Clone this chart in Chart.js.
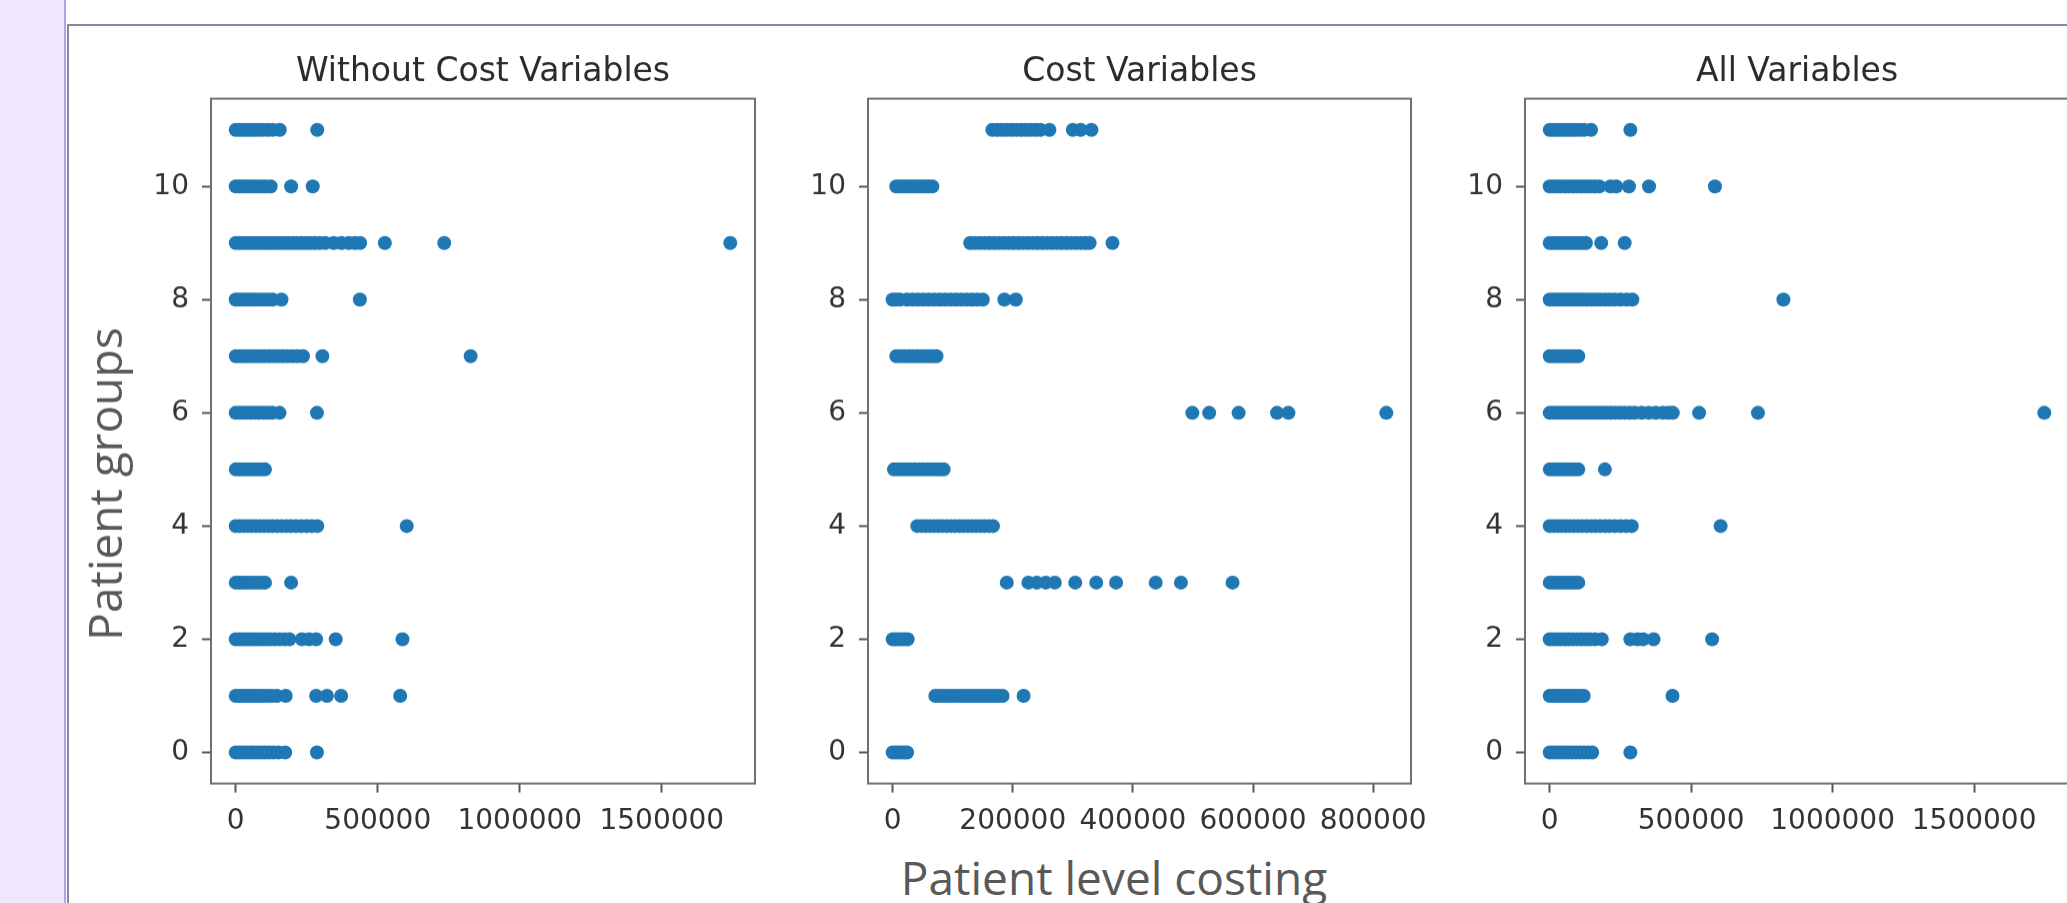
<!DOCTYPE html>
<html lang="en">
<head>
<meta charset="utf-8">
<title>Patient level costing by patient group</title>
<script src="https://cdn.jsdelivr.net/npm/chart.js@4.4.1/dist/chart.umd.min.js"></script>
<style>
  html, body { margin: 0; padding: 0; width: 2067px; height: 903px; overflow: hidden; background: #fff; }
  .band { position: absolute; left: 0; top: 0; width: 64px; height: 903px; background: #f0e7fc; border-right: 2px solid #b9a0ea; }
  .frame { position: absolute; left: 67px; top: 24px; right: -4px; bottom: -4px; background: #fff;
           border-left: 2px solid #7d8ca3; border-top: 2px solid #7d8ca3; }
  .panel { position: absolute; }
  .axis-label { position: absolute; font-family: "Open Sans", Lato, sans-serif; font-size: 46px; line-height: 46px;
                color: #595959; white-space: nowrap; }
  #xLabel { left: 1114px; top: 854px; transform: translateX(-50%); }
  #yLabel { left: 104px; top: 484px; transform: translate(-50%, -50%) rotate(-90deg); }
</style>
</head>
<body>
<div class="band"></div>
<div class="frame"></div>
<div class="panel" id="p0"><canvas id="chartWithout"></canvas></div>
<div class="panel" id="p1"><canvas id="chartCost"></canvas></div>
<div class="panel" id="p2"><canvas id="chartAll"></canvas></div>
<div class="axis-label" id="yLabel">Patient groups</div>
<div class="axis-label" id="xLabel">Patient level costing</div>

<script>
// ── Datos ──
const groups = [0, 1, 2, 3, 4, 5, 6, 7, 8, 9, 10, 11];
const yTicks = [0, 2, 4, 6, 8, 10];
const yRange = [-0.55, 11.55];

const titles = ['Without Cost Variables', 'Cost Variables', 'All Variables'];
const xTicksWide = [0, 500000, 1000000, 1500000];
const xTicksCost = [0, 200000, 400000, 600000, 800000];
const xRangeWithout = [-87050, 1828050];
const xRangeCost = [-41100, 863100];
const xRangeAll = [-87400, 1835400];

// patient level cost per patient, one list per patient group (index = group)
const withoutCostRows = [
    [0, 12000, 25000, 37000, 50000, 62000, 76000, 90000, 104000, 118000, 133000, 150000, 174000, 286000],
    [0, 13000, 26000, 40000, 53000, 67000, 81000, 96000, 111000, 127000, 145000, 176000, 283000, 321000, 371000, 579000],
    [0, 13000, 26000, 39000, 52000, 66000, 80000, 94000, 108000, 122000, 138000, 155000, 172000, 189000, 233000, 258000, 283000, 352000, 587000],
    [0, 12000, 24000, 36000, 49000, 62000, 76000, 90000, 103000, 195000],
    [0, 14000, 28000, 42000, 56000, 70000, 85000, 100000, 115000, 130000, 146000, 162000, 178000, 195000, 212000, 230000, 250000, 268000, 287000, 602000],
    [0, 12000, 24000, 37000, 50000, 63000, 77000, 90000, 103000],
    [0, 13000, 26000, 40000, 54000, 68000, 82000, 97000, 112000, 128000, 154000, 286000],
    [0, 14000, 28000, 42000, 57000, 72000, 87000, 102000, 118000, 134000, 150000, 166000, 182000, 200000, 218000, 237000, 305000, 827000],
    [0, 13000, 27000, 41000, 55000, 69000, 84000, 99000, 114000, 130000, 161000, 437000],
    [0, 14000, 28000, 42000, 56000, 70000, 84000, 98000, 112000, 126000, 140000, 155000, 170000, 185000, 200000, 215000, 230000,
     246000, 262000, 278000, 295000, 315000, 345000, 372000, 398000, 420000, 438000, 525000, 734000, 1741000],
    [0, 12000, 24000, 37000, 50000, 63000, 77000, 91000, 106000, 123000, 195000, 271000],
    [0, 13000, 26000, 39000, 52000, 66000, 80000, 95000, 112000, 130000, 155000, 287000]
];

const costRows = [
    [0, 5000, 10000, 15000, 20000, 24000],
    [71000, 78000, 85000, 92000, 99000, 106000, 113000, 120000, 127000, 134000, 141000, 148000, 155000, 162000, 169000, 176000, 183000, 218000],
    [0, 5000, 10000, 15000, 20000, 25000],
    [190000, 226000, 240000, 255000, 270000, 304000, 339000, 372000, 438000, 480000, 566000],
    [41000, 48000, 55000, 62000, 69000, 76000, 83000, 90000, 97000, 104000, 111000, 118000, 125000, 132000, 139000, 146000, 153000, 160000, 167000],
    [2000, 9000, 16000, 23000, 30000, 37000, 44000, 51000, 58000, 65000, 72000, 79000, 85000],
    [499000, 527000, 576000, 640000, 659000, 822000],
    [6000, 13000, 20000, 27000, 34000, 41000, 48000, 55000, 62000, 68000, 73000],
    [0, 6000, 12000, 24000, 33000, 42000, 51000, 60000, 69000, 78000, 87000, 96000, 105000, 114000, 123000, 132000, 141000, 150000, 186000, 205000],
    [129000, 137000, 145000, 153000, 161000, 169000, 177000, 185000, 193000, 201000, 209000, 217000, 225000, 233000, 241000,
     249000, 257000, 265000, 273000, 281000, 289000, 297000, 305000, 313000, 321000, 328000, 366000],
    [6000, 12000, 18000, 24000, 30000, 36000, 42000, 48000, 54000, 60000, 66000],
    [166000, 174000, 182000, 190000, 198000, 206000, 214000, 222000, 230000, 238000, 246000, 261000, 300000, 313000, 331000]
];

const allRows = [
    [0, 12000, 25000, 38000, 51000, 64000, 78000, 92000, 106000, 121000, 136000, 150000, 285000],
    [0, 12000, 24000, 37000, 50000, 64000, 78000, 92000, 106000, 120000, 434000],
    [0, 13000, 26000, 40000, 54000, 68000, 82000, 97000, 112000, 127000, 142000, 160000, 184000, 285000, 310000, 330000, 367000, 574000],
    [0, 12000, 24000, 37000, 50000, 63000, 76000, 89000, 101000],
    [0, 14000, 28000, 42000, 56000, 70000, 85000, 100000, 115000, 130000, 146000, 162000, 178000, 195000, 212000, 230000, 250000, 270000, 290000, 604000],
    [0, 12000, 24000, 37000, 50000, 63000, 76000, 89000, 101000, 195000],
    [0, 14000, 28000, 42000, 56000, 70000, 84000, 98000, 112000, 126000, 140000, 155000, 170000, 185000, 200000, 216000, 232000,
     248000, 265000, 283000, 300000, 325000, 350000, 375000, 400000, 420000, 435000, 528000, 736000, 1748000],
    [0, 12000, 24000, 37000, 50000, 63000, 76000, 89000, 101000],
    [0, 14000, 28000, 42000, 56000, 70000, 85000, 100000, 115000, 130000, 146000, 162000, 178000, 195000, 212000, 230000, 250000, 272000, 292000, 826000],
    [0, 12000, 25000, 38000, 51000, 64000, 77000, 90000, 103000, 116000, 128000, 182000, 265000],
    [0, 13000, 26000, 40000, 54000, 68000, 82000, 97000, 112000, 127000, 143000, 159000, 175000, 215000, 235000, 280000, 351000, 584000],
    [0, 12000, 24000, 37000, 50000, 63000, 77000, 91000, 106000, 121000, 146000, 285000]
];

// ── Geometría de los paneles (área de trazado en px de la página) ──
const areaLeft = [211, 868, 1525];
const areaRight = [755, 1411, 2069];
const AREA_TOP = 99, AREA_BOTTOM = 783;
const Y_AXIS_W = 90, X_AXIS_H = 60, PAD_RIGHT = 30;
const TITLE_SIZE = 33, TITLE_PAD = 6;
const TICK_FONT = { family: "'DejaVu Sans', sans-serif", size: 28 };
const POINT_COLOR = '#1f77b4';
const SPINE_COLOR = '#6f6f6f';

// marco completo alrededor del área (los 4 lados, como matplotlib)
const boxFrame = {
    id: 'boxFrame',
    afterDraw(chart) {
        const { ctx, chartArea: { left, top, right, bottom } } = chart;
        ctx.save();
        ctx.strokeStyle = SPINE_COLOR;
        ctx.lineWidth = 2;
        ctx.strokeRect(left, top, right - left, bottom - top);
        ctx.restore();
    }
};

function toPoints(rows) {
    const pts = [];
    rows.forEach((costs, g) => costs.forEach(c => pts.push({ x: c, y: groups[g] })));
    return pts;
}

function makePanel(i, canvasId, rows, xRange, xTicks) {
    const titleH = TITLE_SIZE * 1.2 + TITLE_PAD;
    const box = document.getElementById('p' + i);
    box.style.left = (areaLeft[i] - Y_AXIS_W) + 'px';
    box.style.top = (AREA_TOP - titleH) + 'px';
    box.style.width = (Y_AXIS_W + areaRight[i] - areaLeft[i] + PAD_RIGHT) + 'px';
    box.style.height = (titleH + AREA_BOTTOM - AREA_TOP + X_AXIS_H) + 'px';

    return new Chart(document.getElementById(canvasId), {
        type: 'scatter',
        data: {
            datasets: [{
                data: toPoints(rows),
                backgroundColor: POINT_COLOR,
                borderColor: POINT_COLOR,
                pointBorderWidth: 0,
                pointRadius: 7,
                pointHoverRadius: 7
            }]
        },
        options: {
            responsive: true,
            maintainAspectRatio: false,
            animation: false,
            events: [],
            layout: { padding: { left: 0, right: PAD_RIGHT, top: 0, bottom: 0 } },
            plugins: {
                legend: { display: false },
                tooltip: { enabled: false },
                title: {
                    display: true,
                    text: titles[i],
                    fullSize: false,
                    color: '#2b2b2b',
                    font: { family: "'DejaVu Sans', sans-serif", size: TITLE_SIZE, weight: 'normal', lineHeight: 1.2 },
                    padding: { top: 0, bottom: TITLE_PAD }
                }
            },
            scales: {
                x: {
                    type: 'linear',
                    min: xRange[0],
                    max: xRange[1],
                    afterBuildTicks: s => { s.ticks = xTicks.map(v => ({ value: v })); },
                    afterFit: s => { s.height = X_AXIS_H; },
                    border: { display: false },
                    grid: { drawOnChartArea: false, drawTicks: true, tickLength: 9, tickColor: '#555', tickWidth: 2 },
                    ticks: { color: '#333', font: TICK_FONT, padding: 12, maxRotation: 0, autoSkip: false, callback: v => String(v) }
                },
                y: {
                    type: 'linear',
                    min: yRange[0],
                    max: yRange[1],
                    afterBuildTicks: s => { s.ticks = yTicks.map(v => ({ value: v })); },
                    afterFit: s => { s.width = Y_AXIS_W; },
                    border: { display: false },
                    grid: { drawOnChartArea: false, drawTicks: true, tickLength: 9, tickColor: '#555', tickWidth: 2 },
                    ticks: { color: '#333', font: TICK_FONT, padding: 13, autoSkip: false, callback: v => String(v) }
                }
            }
        },
        plugins: [boxFrame]
    });
}

makePanel(0, 'chartWithout', withoutCostRows, xRangeWithout, xTicksWide);
makePanel(1, 'chartCost', costRows, xRangeCost, xTicksCost);
makePanel(2, 'chartAll', allRows, xRangeAll, xTicksWide);
</script>
</body>
</html>
